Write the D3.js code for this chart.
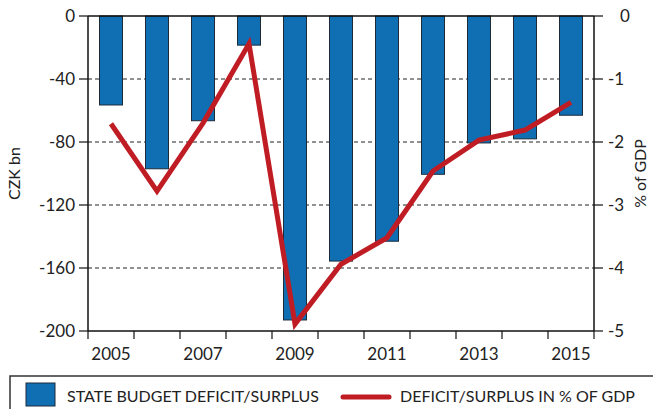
<!DOCTYPE html>
<html>
<head>
<meta charset="utf-8">
<script src="https://cdn.jsdelivr.net/npm/d3@7"></script>
<style>
  html, body { margin: 0; padding: 0; background: #fff; }
  svg text { font-family: Lato, "Noto Sans", sans-serif; fill: #222; }
</style>
</head>
<body>
<svg id="chart" width="653" height="409"></svg>
<script>
// data
const years = [2005, 2006, 2007, 2008, 2009, 2010, 2011, 2012, 2013, 2014, 2015];
const budgetBn = [-56.5, -97, -66.5, -18.5, -193, -155.6, -143, -100.5, -80.6, -78, -63];
const gdpPct = [-1.71, -2.78, -1.70, -0.44, -4.89, -3.94, -3.52, -2.46, -1.97, -1.81, -1.37];
const leftTicks = [0, -40, -80, -120, -160, -200];
const rightTicks = [0, -1, -2, -3, -4, -5];
const labelYears = [2005, 2007, 2009, 2011, 2013, 2015];

const svg = d3.select("#chart");
const plotL = 88, plotR = 594, plotT = 16, plotB = 331;

const x = d3.scaleBand()
  .domain(years)
  .range([plotL, plotR])
  .paddingInner(0.5)
  .paddingOuter(0.25);

const yL = d3.scaleLinear().domain([-200, 0]).range([plotB, plotT]);
const yR = d3.scaleLinear().domain([-5, 0]).range([plotB, plotT]);

// dashed grid
svg.append("g")
  .selectAll("line")
  .data(leftTicks.filter(d => d !== 0 && d !== -200))
  .join("line")
  .attr("x1", plotL).attr("x2", plotR)
  .attr("y1", d => yL(d)).attr("y2", d => yL(d))
  .attr("stroke", "#222")
  .attr("stroke-width", 1)
  .attr("stroke-dasharray", "4,3");

// bars
svg.append("g")
  .selectAll("rect")
  .data(years.map((yr, i) => ({ yr, v: budgetBn[i] })))
  .join("rect")
  .attr("x", d => x(d.yr))
  .attr("width", x.bandwidth())
  .attr("y", yL(0))
  .attr("height", d => yL(d.v) - yL(0))
  .attr("fill", "#106eb3")
  .attr("stroke", "#1c2b3a")
  .attr("stroke-width", 1);

// frame
const frame = svg.append("g").attr("stroke", "#111").attr("stroke-width", 1.5);
frame.append("line").attr("x1", plotL).attr("x2", plotR).attr("y1", plotT).attr("y2", plotT);
frame.append("line").attr("x1", plotL).attr("x2", plotR).attr("y1", plotB).attr("y2", plotB);
frame.append("line").attr("x1", plotL).attr("x2", plotL).attr("y1", plotT).attr("y2", plotB);
frame.append("line").attr("x1", plotR).attr("x2", plotR).attr("y1", plotT).attr("y2", plotB);

// left axis
const axL = svg.append("g");
axL.selectAll("line")
  .data(leftTicks)
  .join("line")
  .attr("x1", plotL - 9).attr("x2", plotL)
  .attr("y1", d => yL(d)).attr("y2", d => yL(d))
  .attr("stroke", "#111").attr("stroke-width", 1.2);
axL.selectAll("text")
  .data(leftTicks)
  .join("text")
  .attr("x", plotL - 13)
  .attr("y", d => yL(d))
  .attr("dy", "0.36em")
  .attr("text-anchor", "end")
  .attr("font-size", 17)
  .text(d => d === 0 ? "0" : "-" + Math.abs(d));

// right axis
const axR = svg.append("g");
axR.selectAll("line")
  .data(rightTicks)
  .join("line")
  .attr("x1", plotR).attr("x2", plotR + 9)
  .attr("y1", d => yR(d)).attr("y2", d => yR(d))
  .attr("stroke", "#111").attr("stroke-width", 1.2);
axR.selectAll("text")
  .data(rightTicks)
  .join("text")
  .attr("x", d => d === 0 ? plotR + 26 : plotR + 14)
  .attr("y", d => yR(d))
  .attr("dy", "0.36em")
  .attr("text-anchor", "start")
  .attr("font-size", 17)
  .text(d => d === 0 ? "0" : "-" + Math.abs(d));

// bottom ticks at band edges
const edges = years.map(yr => x(yr) - x.step() * x.paddingInner() / 2);
edges.push(plotR);
svg.append("g")
  .selectAll("line")
  .data(edges)
  .join("line")
  .attr("x1", d => d).attr("x2", d => d)
  .attr("y1", plotB).attr("y2", plotB + 8)
  .attr("stroke", "#111").attr("stroke-width", 1.2);

svg.append("g")
  .selectAll("text")
  .data(labelYears)
  .join("text")
  .attr("x", d => x(d) + x.bandwidth() / 2)
  .attr("y", 360)
  .attr("text-anchor", "middle")
  .attr("font-size", 17)
  .text(d => d);

// axis titles
svg.append("text")
  .attr("transform", `translate(20,${(plotT + plotB) / 2}) rotate(-90)`)
  .attr("text-anchor", "middle")
  .attr("font-size", 16)
  .text("CZK bn");

svg.append("text")
  .attr("transform", `translate(646,${(plotT + plotB) / 2}) rotate(-90)`)
  .attr("text-anchor", "middle")
  .attr("font-size", 16)
  .text("% of GDP");

// line
const line = d3.line()
  .x((d, i) => x(years[i]) + x.bandwidth() / 2)
  .y(d => yR(d));

svg.append("path")
  .datum(gdpPct)
  .attr("d", line)
  .attr("fill", "none")
  .attr("stroke", "#c01c24")
  .attr("stroke-width", 5)
  .attr("stroke-linejoin", "miter");

// legend
const lg = svg.append("g");
lg.append("rect")
  .attr("x", 10).attr("y", 376)
  .attr("width", 660).attr("height", 60)
  .attr("fill", "none")
  .attr("stroke", "#333")
  .attr("stroke-width", 1.5);
lg.append("rect")
  .attr("x", 26).attr("y", 383)
  .attr("width", 29).attr("height", 23)
  .attr("fill", "#106eb3")
  .attr("stroke", "#1c2b3a");
lg.append("text")
  .attr("x", 67).attr("y", 402)
  .attr("font-size", 16)
  .text("STATE BUDGET DEFICIT/SURPLUS");
lg.append("line")
  .attr("x1", 343).attr("x2", 389)
  .attr("y1", 397).attr("y2", 397)
  .attr("stroke", "#c01c24")
  .attr("stroke-width", 5)
  .attr("stroke-linecap", "round");
lg.append("text")
  .attr("x", 400).attr("y", 402)
  .attr("font-size", 16)
  .text("DEFICIT/SURPLUS IN % OF GDP");
</script>
</body>
</html>
